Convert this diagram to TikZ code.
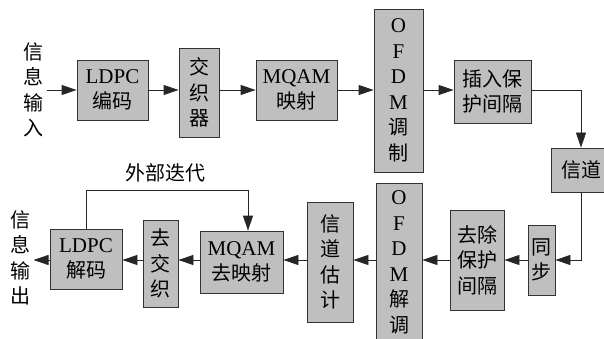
\documentclass[tikz,border=0pt]{standalone}
\usepackage{fontspec}
\setmainfont{Liberation Serif}
\newfontfamily\cjk{Noto Sans CJK SC}
\usetikzlibrary{arrows.meta}
\newcommand\latn[1]{{\fontsize{21}{25}\selectfont\rmfamily #1}}
\begin{document}
\begin{tikzpicture}[x=1pt,y=-1pt,
  blk/.style={draw=black!80, fill=black!25, line width=0.8pt, inner sep=0pt, align=center,
    font=\fontsize{20}{25.5}\selectfont\cjk},
  txt/.style={align=center, inner sep=3.3pt, font=\fontsize{20}{25.5}\selectfont\cjk},
  arr/.style={draw=black!85, line width=0.8pt, -{Triangle[length=15pt,width=10pt]}},
  ln/.style={draw=black!85, line width=0.8pt}]
\useasboundingbox (0,0) rectangle (604,339);
\clip (0,0) rectangle (604,339);
\coordinate (row1) at (0,90);
\coordinate (row2) at (0,260);
% top row
\node[txt] (inp) at (33,90) {信\\息\\输\\入};
\node[blk, minimum width=71pt, minimum height=60pt] (enc) at (112.5,90) {\latn{LDPC}\\编码};
\node[blk, minimum width=40pt, minimum height=89pt] (intl) at (199,92.5) {交\\织\\器};
\node[blk, minimum width=81pt, minimum height=60pt] (mqam) at (296.5,90) {\latn{MQAM}\\映射};
\node[blk, minimum width=49pt, minimum height=163pt] (ofdm) at (398.5,90.5) {\latn{O}\\\latn{F}\\\latn{D}\\\latn{M}\\调\\制};
\node[blk, minimum width=77pt, minimum height=63pt] (guard) at (492.5,91.5) {插入保\\护间隔};
\node[blk, minimum width=60pt, minimum height=44pt] (chan) at (581,170) {信道};
% bottom row
\node[blk, minimum width=27pt, minimum height=70pt] (sync) at (541.5,260) {同\\步};
\node[blk, minimum width=54pt, minimum height=100pt] (rmg) at (477,260) {去除\\保护\\间隔};
\node[blk, minimum width=46pt, minimum height=159pt] (ofdmd) at (399,262.5) {\latn{O}\\\latn{F}\\\latn{D}\\\latn{M}\\解\\调};
\node[blk, minimum width=46pt, minimum height=120pt] (chest) at (330,262) {信\\道\\估\\计};
\node[blk, minimum width=83pt, minimum height=62pt] (demap) at (241.5,262) {\latn{MQAM}\\去映射};
\node[blk, minimum width=35pt, minimum height=87pt] (deintl) at (160.5,263.5) {去\\交\\织};
\node[blk, minimum width=72pt, minimum height=60pt] (dec) at (86,259) {\latn{LDPC}\\解码};
\node[txt] (outp) at (20,258) {信\\息\\输\\出};
\node[txt] (fblabel) at (165,173) {外部迭代};
% connectors top
\draw[arr] (inp.east |- row1) -- (enc.west |- row1);
\draw[arr] (enc.east |- row1) -- (intl.west |- row1);
\draw[arr] (intl.east |- row1) -- (mqam.west |- row1);
\draw[arr] (mqam.east |- row1) -- (ofdm.west |- row1);
\draw[arr] (ofdm.east |- row1) -- (guard.west |- row1);
\draw[arr] (guard.east |- row1) -| (chan.north);
\draw[arr] (chan.south) |- (sync.east |- row2);
% connectors bottom
\draw[arr] (sync.west |- row2) -- (rmg.east |- row2);
\draw[arr] (rmg.west |- row2) -- (ofdmd.east |- row2);
\draw[arr] (ofdmd.west |- row2) -- (chest.east |- row2);
\draw[arr] (chest.west |- row2) -- (demap.east |- row2);
\draw[arr] (demap.west |- row2) -- (deintl.east |- row2);
\draw[arr] (deintl.west |- row2) -- (dec.east |- row2);
\draw[arr] (dec.west |- row2) -- (outp.east |- row2);
% feedback
\coordinate (fb) at (248,190);
\draw[arr] (dec.north) |- (fb) -- (fb |- demap.north);
\end{tikzpicture}
\end{document}
